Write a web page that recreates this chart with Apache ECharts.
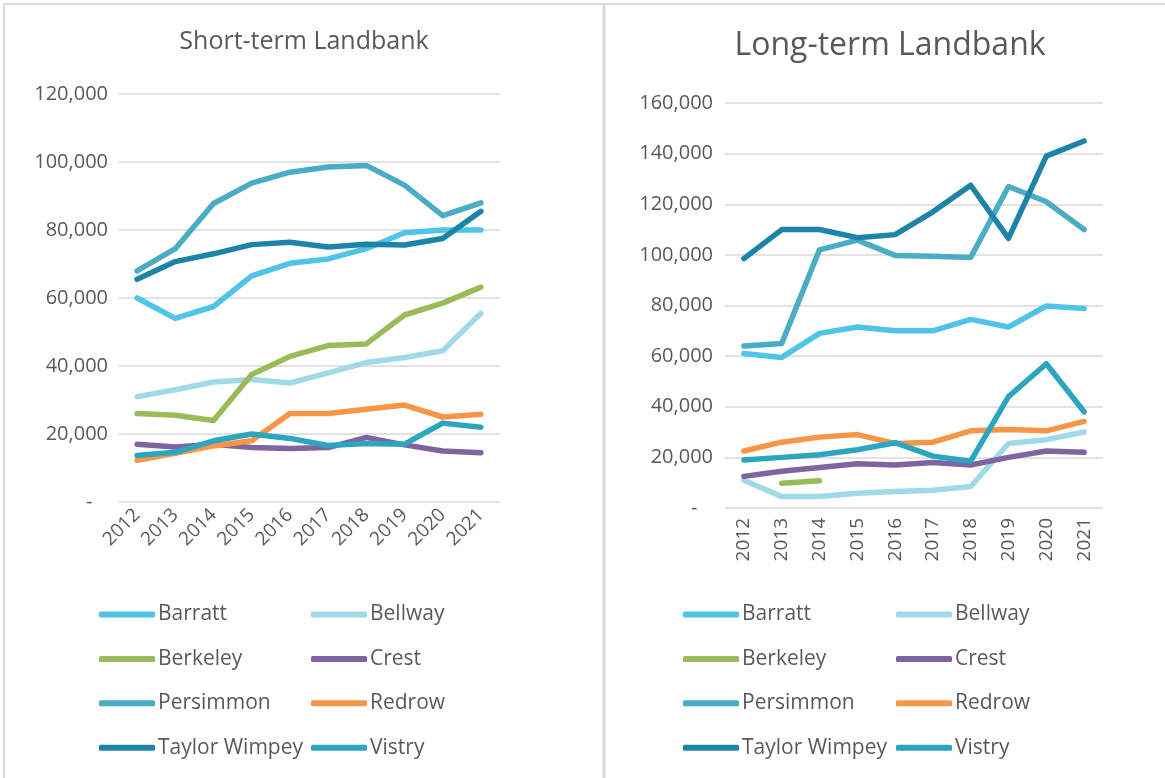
<!DOCTYPE html>
<html>
<head>
<meta charset="utf-8">
<script src="https://cdn.jsdelivr.net/npm/echarts@6/dist/echarts.min.js"></script>
<style>
  html, body { margin: 0; padding: 0; background: #fff; }
  #main { width: 1165px; height: 778px; }
</style>
</head>
<body>
<div id="main"></div>
<script>
// categories
var years = ['2012', '2013', '2014', '2015', '2016', '2017', '2018', '2019', '2020', '2021'];
var builders = ['Barratt', 'Bellway', 'Berkeley', 'Crest', 'Persimmon', 'Redrow', 'Taylor Wimpey', 'Vistry'];
var colours = ['#4fc3e8', '#a0d9e8', '#9bbb59', '#8064a2', '#4bacc6', '#f79646', '#1c84a8', '#2ca5c0'];

// short-term landbank (plots)
var stBarratt      = [60000, 54000, 57500, 66500, 70200, 71500, 74500, 79200, 80000, 80000];
var stBellway      = [31000, 33000, 35300, 36000, 35000, 38000, 41000, 42500, 44500, 55500];
var stBerkeley     = [26000, 25500, 24000, 37500, 42800, 46000, 46500, 55000, 58500, 63200];
var stCrest        = [17000, 16200, 17000, 16000, 15700, 16000, 19000, 16800, 15000, 14500];
var stPersimmon    = [68000, 74500, 87800, 93800, 97000, 98500, 99000, 93200, 84200, 88000];
var stRedrow       = [12300, 14300, 16500, 18000, 26000, 26000, 27300, 28500, 25000, 25800];
var stTaylorWimpey = [65500, 70700, 73000, 75700, 76400, 75000, 75800, 75600, 77500, 85500];
var stVistry       = [13700, 14600, 18000, 20000, 18700, 16600, 17200, 17000, 23200, 22000];

// long-term landbank (plots)
var ltBarratt      = [61000, 59500, 69000, 71500, 70000, 70000, 74500, 71500, 79800, 78800];
var ltBellway      = [11000, 4500, 4500, 5800, 6500, 7000, 8500, 25500, 27000, 30000];
var ltBerkeley     = [null, 9800, 10800, null, null, null, null, null, null, null];
var ltCrest        = [12500, 14500, 16000, 17500, 17000, 18000, 17000, 20000, 22500, 22000];
var ltPersimmon    = [64000, 65000, 102000, 105800, 99800, 99500, 99000, 127000, 121000, 110000];
var ltRedrow       = [22500, 26000, 28000, 29000, 25500, 26000, 30500, 31000, 30500, 34200];
var ltTaylorWimpey = [98500, 110000, 110000, 106800, 108000, 117000, 127500, 106500, 139000, 145000];
var ltVistry       = [19000, 20000, 21000, 23000, 25800, 20500, 18500, 44000, 57000, 38000];

var stSets = [stBarratt, stBellway, stBerkeley, stCrest, stPersimmon, stRedrow, stTaylorWimpey, stVistry];
var ltSets = [ltBarratt, ltBellway, ltBerkeley, ltCrest, ltPersimmon, ltRedrow, ltTaylorWimpey, ltVistry];

var txt = '#595959';
var font = "'Open Sans', 'Noto Sans', sans-serif";

function fmt(v) {
  return v === 0 ? '-   ' : v.toLocaleString('en-US');
}

function makeSeries(sets, idx) {
  return sets.map(function (d, i) {
    return {
      name: builders[i],
      type: 'line',
      xAxisIndex: idx,
      yAxisIndex: idx,
      data: d,
      showSymbol: false,
      symbol: 'none',
      color: colours[i],
      lineStyle: { width: 5.5, color: colours[i], cap: 'round', join: 'round' },
      animation: false
    };
  });
}

function legendCol(left, names) {
  return {
    orient: 'vertical',
    left: left,
    top: 604,
    padding: 0,
    data: names,
    icon: 'roundRect',
    itemWidth: 56,
    itemHeight: 6,
    itemGap: 23.4,
    selectedMode: false,
    textStyle: { color: txt, fontSize: 21, lineHeight: 20, fontFamily: font, padding: [0, 0, 0, -2] }
  };
}

var colA = ['Barratt', 'Berkeley', 'Persimmon', 'Taylor Wimpey'];
var colB = ['Bellway', 'Crest', 'Redrow', 'Vistry'];

var myChart = echarts.init(document.getElementById('main'));
var option = {
  backgroundColor: '#fff',
  animation: false,
  title: [
    { text: 'Short-term Landbank', left: 304, top: 29, textAlign: 'center', padding: 0,
      textStyle: { color: txt, fontSize: 25, fontWeight: 'normal', fontFamily: font } },
    { text: 'Long-term Landbank', left: 890, top: 30, textAlign: 'center', padding: 0,
      textStyle: { color: txt, fontSize: 32, fontWeight: 'normal', fontFamily: font } }
  ],
  legend: [legendCol(99, colA), legendCol(311, colB), legendCol(683, colA), legendCol(896, colB)],
  grid: [
    { left: 118, right: 665, top: 94, bottom: 276 },
    { left: 725, right: 62, top: 103, bottom: 270 }
  ],
  xAxis: [
    { type: 'category', gridIndex: 0, data: years, boundaryGap: true,
      axisLine: { show: false }, axisTick: { show: false },
      axisLabel: { rotate: 45, margin: 10, color: txt, fontSize: 19, fontFamily: font } },
    { type: 'category', gridIndex: 1, data: years, boundaryGap: true,
      axisLine: { show: false }, axisTick: { show: false },
      axisLabel: { rotate: 90, margin: 10, color: txt, fontSize: 19, fontFamily: font } }
  ],
  yAxis: [
    { type: 'value', gridIndex: 0, min: 0, max: 120000, interval: 20000,
      axisLine: { show: false }, axisTick: { show: false },
      splitLine: { lineStyle: { color: '#d9d9d9', width: 1.5 } },
      axisLabel: { formatter: fmt, margin: 10, color: txt, fontSize: 20, fontFamily: font } },
    { type: 'value', gridIndex: 1, min: 0, max: 160000, interval: 20000,
      axisLine: { show: false }, axisTick: { show: false },
      splitLine: { lineStyle: { color: '#d9d9d9', width: 1.5 } },
      axisLabel: { formatter: fmt, margin: 12, color: txt, fontSize: 20, fontFamily: font } }
  ],
  graphic: [
    { type: 'line', shape: { x1: 4, y1: 4, x2: 1165, y2: 4 }, style: { stroke: '#d9d9d9', lineWidth: 2 } },
    { type: 'line', shape: { x1: 4, y1: 4, x2: 4, y2: 778 }, style: { stroke: '#d9d9d9', lineWidth: 2 } },
    { type: 'line', shape: { x1: 604, y1: 4, x2: 604, y2: 778 }, style: { stroke: '#d9d9d9', lineWidth: 3 } }
  ],
  series: makeSeries(stSets, 0).concat(makeSeries(ltSets, 1))
};
myChart.setOption(option);
</script>
</body>
</html>
